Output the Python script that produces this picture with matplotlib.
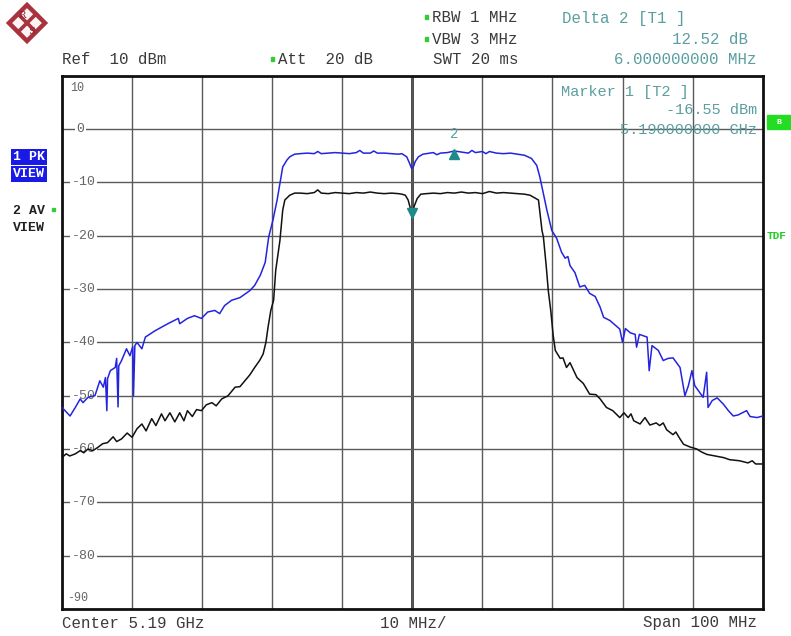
import matplotlib
matplotlib.use("Agg")
import matplotlib.pyplot as plt
from matplotlib.patches import Polygon, Rectangle
import numpy as np

# ---------------- data (frequency offset from 5.19 GHz in MHz, level in dBm) -------------
pk_freq = [-50.0, -48.85, -48.1, -47.4, -47.0, -46.3, -45.3, -44.6, -44.1, -43.8, -43.6, -43.5,
           -43.1, -42.4, -42.2, -42.0, -41.9, -41.5, -40.8, -40.3, -39.9, -39.8, -39.6, -39.3,
           -38.6, -38.1, -36.7, -34.9, -33.4, -33.2, -32.1, -31.1, -30.1, -29.2, -28.2, -27.5,
           -26.8, -25.8, -24.6, -23.2, -22.5, -21.7, -21.0, -20.5, -19.9, -19.3, -18.9, -18.5,
           -17.9, -17.5, -16.8, -16.0, -15.0, -14.0, -13.5, -13.0, -12.0, -11.0, -10.0, -9.0,
           -8.0, -7.5, -7.0, -6.0, -5.5, -5.0, -4.0, -3.0, -2.0, -1.5, -0.8, -0.4, -0.1, 0.2,
           0.4, 0.86, 1.5, 2.0, 3.0, 3.5, 4.0, 5.0, 6.0, 7.0, 8.0, 8.5, 9.0, 10.0, 10.5, 11.0,
           12.0, 13.0, 14.0, 15.0, 16.0, 17.0, 17.75, 18.2, 19.2, 19.9, 20.6, 21.3, 21.8, 22.2,
           22.5, 23.2, 23.9, 24.6, 25.3, 26.1, 26.8, 27.3, 28.2, 29.6, 30.0, 30.4, 31.1, 31.8,
           32.0, 32.4, 33.5, 33.8, 34.2, 35.1, 35.8, 36.5, 37.2, 38.2, 38.9, 39.4, 39.9, 40.3,
           41.0, 41.5, 42.0, 42.2, 42.8, 43.5, 44.4, 45.1, 45.8, 46.5, 47.7, 48.2, 49.2, 50.0]
pk_level = [-52.2, -53.8, -52.2, -50.6, -51.3, -50.3, -50.0, -47.2, -48.4, -46.6, -52.8, -46.8,
            -45.3, -44.7, -43.0, -52.1, -44.4, -43.4, -41.2, -42.5, -40.8, -50.0, -40.6, -40.0,
            -41.2, -39.0, -37.8, -36.5, -35.5, -36.5, -35.5, -35.0, -35.5, -34.3, -34.0, -34.6,
            -33.1, -32.1, -31.6, -30.3, -29.3, -27.4, -25.0, -20.2, -17.1, -13.3, -10.2, -7.1,
            -5.8, -5.2, -4.7, -4.6, -4.5, -4.6, -4.2, -4.6, -4.5, -4.4, -4.5, -4.6,
            -4.4, -4.0, -4.5, -4.5, -4.1, -4.5, -4.5, -4.6, -4.7, -4.6, -5.2, -6.4, -7.4, -6.9,
            -6.1, -5.2, -4.7, -4.6, -4.4, -4.8, -4.5, -4.4, -4.1, -4.3, -4.5, -4.0, -4.4, -4.2,
            -4.6, -4.2, -4.5, -4.6, -4.5, -4.7, -4.9, -5.5, -6.8, -9.0, -15.2, -19.0, -20.5,
            -23.1, -24.2, -23.9, -25.6, -26.9, -29.6, -29.3, -30.8, -31.4, -33.4, -35.3, -35.9,
            -37.5, -40.0, -37.4, -38.2, -38.5, -40.9, -38.5, -39.0, -45.3, -40.6, -41.5, -43.4,
            -43.0, -42.9, -44.7, -50.0, -48.1, -45.3, -48.1, -49.4, -50.3, -45.6, -52.2, -50.9,
            -50.4, -51.6, -52.8, -53.8, -53.6, -52.8, -53.9, -54.1, -53.8]

av_freq = [-50.0, -49.4, -48.9, -48.1, -47.4, -46.9, -46.3, -45.6, -44.9, -44.2, -43.5, -42.7,
           -42.2, -41.5, -40.7, -40.0, -39.3, -38.6, -38.0, -37.2, -36.6, -35.8, -35.3, -34.6,
           -33.9, -33.2, -32.6, -32.1, -31.4, -30.8, -30.1, -29.4, -28.6, -28.0, -27.2, -26.3,
           -25.3, -24.6, -23.9, -23.2, -22.5, -21.8, -21.3, -20.9, -20.6, -20.2, -19.8, -19.5,
           -18.9, -18.5, -18.2, -17.5, -16.8, -16.0, -15.0, -14.0, -13.5, -13.0, -12.0, -11.0,
           -10.0, -9.0, -8.0, -7.0, -6.0, -5.0, -4.0, -3.0, -2.0, -1.5, -1.0, -0.6, -0.3, 0.0,
           0.25, 0.7, 1.2, 2.0, 3.0, 4.0, 5.0, 6.0, 7.0, 8.0, 9.0, 10.0, 11.0, 12.0, 13.0, 14.0,
           15.0, 16.0, 16.8, 17.2, 18.0, 18.5, 18.7, 19.1, 19.4, 19.75, 20.1, 20.4, 21.1, 21.5,
           22.0, 22.5, 23.5, 24.4, 25.3, 26.2, 26.8, 27.7, 28.6, 29.6, 30.2, 30.8, 31.2, 31.6,
           32.5, 33.2, 33.9, 34.8, 35.3, 35.8, 36.3, 37.2, 37.6, 38.2, 38.7, 39.6, 40.6, 41.2,
           42.0, 43.2, 44.4, 45.3, 46.7, 47.9, 48.5, 49.0, 50.0]
av_level = [-61.6, -60.9, -61.3, -60.9, -60.3, -60.7, -60.0, -60.3, -59.7, -59.0, -58.8, -57.7,
            -58.6, -58.1, -57.0, -57.8, -56.2, -55.3, -56.6, -54.3, -55.6, -53.4, -54.7, -53.2,
            -54.9, -53.2, -54.7, -52.8, -53.9, -52.6, -52.8, -51.7, -51.3, -51.9, -50.6, -50.0,
            -48.4, -48.3, -47.2, -46.1, -44.7, -43.4, -42.2, -40.0, -37.2, -34.0, -32.1, -26.5,
            -20.9, -15.2, -13.3, -12.4, -12.0, -12.0, -12.1, -11.9, -11.4, -12.0, -12.1, -11.9,
            -12.0, -12.1, -11.9, -12.0, -11.8, -12.0, -12.1, -12.0, -12.1, -12.2, -12.4, -13.3,
            -14.8, -16.0, -14.5, -13.0, -12.2, -12.1, -12.0, -12.1, -11.9, -12.0, -11.8, -12.0,
            -11.9, -12.1, -11.7, -12.0, -11.9, -12.0, -12.1, -12.2, -12.4, -12.7, -13.3, -19.0,
            -20.2, -25.6, -30.3, -34.0, -38.7, -41.5, -43.0, -42.9, -44.7, -43.8, -46.6, -47.7,
            -49.7, -49.8, -50.6, -52.2, -52.8, -54.1, -53.2, -54.1, -53.4, -54.7, -55.3, -54.1,
            -55.5, -55.1, -55.6, -55.1, -56.4, -57.3, -56.8, -58.1, -59.1, -59.6, -60.0, -60.5,
            -61.0, -61.3, -61.6, -62.0, -62.2, -62.6, -62.2, -62.8, -62.8]

marker1 = (0.0, -16.55)     # Marker 1 [T2]
marker2 = (6.0, -4.03)      # Delta 2 [T1]: +12.52 dB, +6 MHz

y_ticks = [10, 0, -10, -20, -30, -40, -50, -60, -70, -80, -90]
y_labels = ["10", "0", "-10", "-20", "-30", "-40", "-50", "-60", "-70", "-80", "-90"]
x_ticks = [-50, -40, -30, -20, -10, 0, 10, 20, 30, 40, 50]

# ---------------- figure ----------------
W, H = 791, 636
fig = plt.figure(figsize=(W / 100, H / 100), dpi=100)
fig.patch.set_facecolor("white")

left, right, top, bottom = 62, 762.7, 75.8, 609
ax = fig.add_axes([left / W, 1 - bottom / H, (right - left) / W, (bottom - top) / H])
ax.set_xlim(-50, 50)
ax.set_ylim(-90, 10)
ax.set_xticks(x_ticks)
ax.set_yticks(y_ticks)
ax.tick_params(length=0, labelleft=False, labelbottom=False)
ax.grid(True, color="#5a5a5a", lw=1.0)
for s in ax.spines.values():
    s.set_linewidth(2.0)
    s.set_color("#111111")
ax.axvline(0, color="#111111", lw=1.8, zorder=1.5)

mono = "Liberation Mono"
gray = "#666666"
teal = "#5a9ea0"
txtc = "#3a3a3a"

# y labels inside the grid
for v, lab in zip(y_ticks, y_labels):
    if v == 10:
        ax.text(-48.9, 7.8, lab, fontsize=8.5, family=mono, color=gray, va="center", ha="left")
    elif v == -90:
        ax.text(-49.3, -88.0, lab, fontsize=8.5, family=mono, color=gray, va="center", ha="left")
    else:
        ax.text(-48.6 if v != 0 else -47.9, v, lab, fontsize=9.5, family=mono, color=gray,
                va="center", ha="left",
                bbox=dict(boxstyle="square,pad=0.12", fc="white", ec="none"), zorder=2)

ax.plot(pk_freq, pk_level, color="#2424e0", lw=1.1, zorder=3)
ax.plot(av_freq, av_level, color="#111111", lw=1.1, zorder=3)

mcol = "#1f8a8a"
ax.plot([marker1[0]], [marker1[1] + 0.9], marker="v", color=mcol, ms=7, zorder=4)
ax.plot([marker2[0]], [marker2[1] - 0.6], marker="^", color=mcol, ms=7, zorder=4)
ax.text(marker2[0], marker2[1] + 1.8, "2", color=teal, fontsize=10, family=mono,
        ha="center", va="bottom", zorder=4)

# marker readout inside plot
ax.text(21.2, 6.9, "Marker 1 [T2 ]", color=teal, fontsize=11, family=mono, va="center", zorder=2)
ax.text(49.2, 3.5, "-16.55 dBm", color=teal, fontsize=11, family=mono, va="center", ha="right", zorder=2)
ax.text(49.2, -0.1, "5.190000000 GHz", color=teal, fontsize=11, family=mono, va="center", ha="right", zorder=2)

# ---------------- header texts ----------------
def ftxt(x, y, s, **kw):
    kw.setdefault("family", mono)
    kw.setdefault("fontsize", 11.3)
    kw.setdefault("va", "center")
    fig.text(x / W, 1 - y / H, s, **kw)

ftxt(62, 60, "Ref  10 dBm", color=txtc)
ftxt(278, 60, "Att  20 dB", color=txtc)
ftxt(432, 18, "RBW 1 MHz", color=txtc)
ftxt(432, 40, "VBW 3 MHz", color=txtc)
ftxt(433, 60, "SWT 20 ms", color=txtc)
for (gx, gy) in [(272, 59), (426, 17), (426, 39)]:
    fig.patches.append(Rectangle((gx / W - 1.5 / W, 1 - gy / H - 1.5 / H), 3 / W, 3 / H,
                                 transform=fig.transFigure, color="#33cc33"))
ftxt(562, 18, "Delta 2 [T1 ]", color=teal)
ftxt(748, 40, "12.52 dB", color=teal, ha="right")
ftxt(757, 60, "6.000000000 MHz", color=teal, ha="right")

# bottom texts
ftxt(62, 623, "Center 5.19 GHz", color=txtc)
ftxt(380, 623, "10 MHz/", color=txtc)
ftxt(757, 623, "Span 100 MHz", color=txtc, ha="right")

# left trace labels
ftxt(13, 157, "1 PK", color="white", fontsize=9.5, weight="bold",
     bbox=dict(boxstyle="square,pad=0.15", fc="#1a1ae6", ec="none"))
ftxt(13, 174, "VIEW", color="white", fontsize=9.5, weight="bold",
     bbox=dict(boxstyle="square,pad=0.15", fc="#1a1ae6", ec="none"))
ftxt(13, 211, "2 AV", color="#222222", fontsize=9.5, weight="bold")
ftxt(13, 228, "VIEW", color="#222222", fontsize=9.5, weight="bold")
fig.patches.append(Rectangle((52 / W, 1 - 211 / H), 3 / W, 3 / H, transform=fig.transFigure,
                             color="#33cc33"))

# right side indicators
fig.patches.append(Rectangle((767 / W, 1 - 129 / H), 24 / W, 14 / H, transform=fig.transFigure,
                             color="#22dd22"))
ftxt(779, 122, "B", color="white", fontsize=6, ha="center", weight="bold")
ftxt(767, 236, "TDF", color="#22cc22", fontsize=8, weight="bold")

# R&S logo
cx, cy, r = 27, 23, 18
pts = [((cx) / W, 1 - (cy - r) / H), ((cx + r) / W, 1 - cy / H),
       ((cx) / W, 1 - (cy + r) / H), ((cx - r) / W, 1 - cy / H)]
fig.patches.append(Polygon(pts, closed=True, transform=fig.transFigure,
                           fc="#fbf3f4", ec="#a8323e", lw=3.2, joinstyle="miter"))
for (x0, y0, x1, y1) in [(cx - 9, cy - 9, cx + 9, cy + 9), (cx + 9, cy - 9, cx - 9, cy + 9)]:
    fig.lines.append(plt.Line2D([x0 / W, x1 / W], [1 - y0 / H, 1 - y1 / H],
                                transform=fig.transFigure, color="#a8323e", lw=2.6))
ftxt(cx - 5, cy - 7, "R", color="#8a2530", fontsize=7, ha="center", family="DejaVu Serif")
ftxt(cx + 4, cy + 8, "S", color="#8a2530", fontsize=7, ha="center", family="DejaVu Serif")

fig.savefig("out.png", dpi=100, facecolor="white")
